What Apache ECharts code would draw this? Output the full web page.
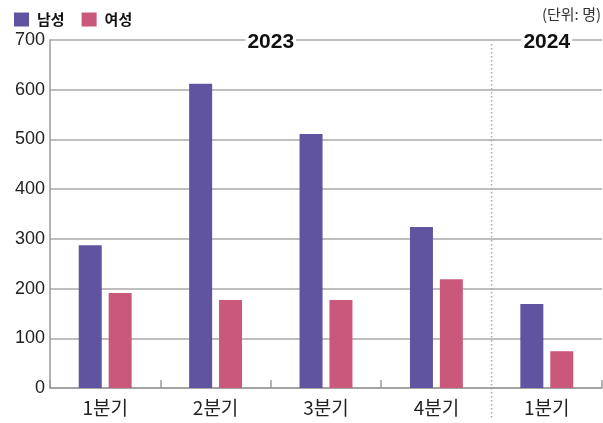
<!DOCTYPE html>
<html><head><meta charset="utf-8">
<script src="https://cdn.jsdelivr.net/npm/echarts@6/dist/echarts.min.js"></script>
<style>html,body{margin:0;padding:0;background:#fff}#c{width:603px;height:423px}</style>
</head><body><div id="c"></div>
<script>
const categories = ['1분기','2분기','3분기','4분기','1분기'];
const maleValues = [287, 612, 511, 324, 169];
const femaleValues = [191, 177, 177, 219, 74];
const seriesNames = ['남성','여성'];
const years = ['2023','2024'];
const yearSpans = [[0,3],[4,4]];
const yTicks = [0,100,200,300,400,500,600,700];
const unitText = '(단위: 명)';

const chart = echarts.init(document.getElementById('c'));
const KR = '"Noto Sans CJK KR", "Liberation Sans", sans-serif';
const NUM = '"Liberation Sans", Arial, sans-serif';
chart.setOption({
  animation:false,
  grid:{left:50,right:1,top:40,bottom:35},
  legend:{left:9,top:7,itemWidth:15,itemHeight:14,itemGap:17,icon:'rect',
    textStyle:{fontFamily:KR,fontWeight:'bold',fontSize:15,color:'#111',padding:[0,0,0,3]},
    data:seriesNames},
  xAxis:{type:'category',data:categories,boundaryGap:true,
    axisLine:{lineStyle:{color:'#9a9a9a',width:1.5}},
    axisTick:{show:true,inside:true,length:8,lineStyle:{color:'#9a9a9a',width:1.5},
      interval:function(i){return i!==4;}},
    axisLabel:{fontFamily:KR,fontSize:19,color:'#222',margin:10}},
  yAxis:{type:'value',min:yTicks[0],max:yTicks[yTicks.length-1],interval:100,
    axisLine:{show:true,lineStyle:{color:'#9a9a9a',width:1.5}},
    axisTick:{show:false},
    splitLine:{lineStyle:{color:'#a8a8a8',width:1.5}},
    axisLabel:{fontFamily:NUM,fontSize:18,color:'#222',margin:5}},
  series:[
    {name:seriesNames[0],type:'bar',data:maleValues,barWidth:23,barGap:'30%',itemStyle:{color:'#6054A0'}},
    {name:seriesNames[1],type:'bar',data:femaleValues,barWidth:23,barGap:'30%',itemStyle:{color:'#C9587A'}}
  ]
});

const xs = categories.map((c,i)=>chart.convertToPixel({xAxisIndex:0},i));
const yTop = chart.convertToPixel({yAxisIndex:0},yTicks[yTicks.length-1]);
const sepX = (xs[3]+xs[4])/2;
const graphics = [
  {type:'line',shape:{x1:sepX,y1:yTop+4,x2:sepX,y2:420},
   style:{stroke:'#aaaaaa',lineWidth:1.5,lineDash:[1.5,2.5]},z:5},
  {type:'text',right:2,top:7,style:{text:unitText,font:'15px '+KR,fill:'#333'}}
];
years.forEach((y,k)=>{
  const cx=(xs[yearSpans[k][0]]+xs[yearSpans[k][1]])/2;
  graphics.push({type:'text',x:cx,y:yTop+2,z:10,
    style:{text:y,font:'bold 21px '+NUM,fill:'#111',align:'center',verticalAlign:'middle',
      backgroundColor:'#fff',padding:[0,2]}});
});
chart.setOption({graphic:graphics});
</script></body></html>
